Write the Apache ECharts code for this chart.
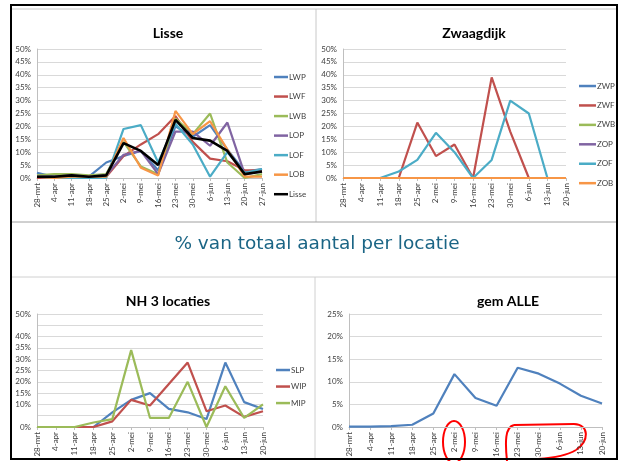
<html>

<head>
    <script src="https://cdn.jsdelivr.net/npm/echarts@6/dist/echarts.min.js"></script>

    <style>
        body {
            margin: 0;
            background: #fff;
        }
        #chart {
            width: 621px;
            height: 461px;
        }
    </style>
</head>

<body>
    <div id="chart"></div>

    <script>
        // week labels
        const weeksLisse = ['28-mrt', '4-apr', '11-apr', '18-apr', '25-apr', '2-mei', '9-mei', '16-mei', '23-mei', '30-mei', '6-jun', '13-jun', '20-jun', '27-jun'];
        const weeks = ['28-mrt', '4-apr', '11-apr', '18-apr', '25-apr', '2-mei', '9-mei', '16-mei', '23-mei', '30-mei', '6-jun', '13-jun', '20-jun'];

        // Lisse (%)
        const LWP = [2, 0.5, 0.5, 0.5, 6, 8.5, 10.5, 3, 20, 16, 20.5, 11, 2.5, 3.5];
        const LWF = [0, 0, 0.5, 0.3, 0.5, 8.5, 13, 17, 24, 14, 7.5, 6.5, 3, 3];
        const LWB = [1, 1.5, 1.5, 1, 1.5, 14, 4.5, 1.5, 23, 17, 25, 6, 0, 1.5];
        const LOP = [0.5, 0.5, 1, 0.5, 1, 9, 10.5, 1.5, 18, 18, 12.5, 21.5, 1.5, 2.5];
        const LOF = [0.5, 0, 0, 0, 0, 19, 20.5, 6, 21, 13, 0.5, 10, 2, 3.5];
        const LOB = [0.5, 0, 0.5, 0.5, 0.5, 15.5, 4, 1, 26, 17, 22, 11, 0.5, 0.5];
        const LISSE = [0.5, 0.5, 1, 0.5, 1, 13.5, 10.5, 5, 22.5, 15.5, 14.5, 10.5, 1.5, 2.5];

        // Zwaagdijk (%)
        const ZWP = [0, 0, 0, 0, 0, 0, 0, 0, 0, 0, 0, 0, 0];
        const ZWF = [0, 0, 0, 0, 21.5, 8.5, 13, 0, 39, 18, 0, 0, 0];
        const ZWB = [0, 0, 0, 0, 0, 0, 0, 0, 0, 0, 0, 0, 0];
        const ZOP = [0, 0, 0, 0, 0, 0, 0, 0, 0, 0, 0, 0, 0];
        const ZOF = [0, 0, 0, 2.5, 7, 17.5, 10, 0, 7, 30, 25, 0, 0];
        const ZOB = [0, 0, 0, 0, 0, 0, 0, 0, 0, 0, 0, 0, 0];

        // NH 3 locaties (%)
        const SLP = [0, 0, 0, 0, 6.5, 12, 15, 8, 6.5, 3.5, 28.5, 11, 8];
        const WIP = [0, 0, 0, 0, 2.5, 12, 9.5, 19, 28.5, 7, 9.5, 4.5, 7];
        const MIP = [0, 0, 0, 2, 3.5, 34, 4, 4, 20, 0, 18, 4, 10];

        // gem ALLE (%)
        const ALLE = [0.1, 0.1, 0.2, 0.5, 3, 11.7, 6.4, 4.7, 13.1, 11.8, 9.6, 6.9, 5.2];

        const blue = '#4F81BD', red = '#C0504D', green = '#9BBB59',
            purple = '#8064A2', aqua = '#4BACC6', orange = '#F79646';

        const font = 'Lato, "Liberation Sans", sans-serif';

        const chartDom = document.getElementById('chart');
        const myChart = echarts.init(chartDom);

        const line = (name, data, idx, color, width) => ({
            name: name,
            type: 'line',
            data: data,
            xAxisIndex: idx,
            yAxisIndex: idx,
            symbol: 'none',
            color: color,
            lineStyle: { color: color, width: width || 2.2 },
            animation: false
        });

        const xAxis = (cats, idx) => ({
            type: 'category',
            gridIndex: idx,
            data: cats,
            boundaryGap: false,
            axisLine: { lineStyle: { color: '#bfbfbf' } },
            axisTick: { show: true, length: 3, lineStyle: { color: '#bfbfbf' } },
            axisLabel: { rotate: 90, fontSize: 8, color: '#404040', fontFamily: font, interval: 0, margin: 5 }
        });

        const yAxis = (max, idx) => ({
            type: 'value',
            gridIndex: idx,
            min: 0,
            max: max,
            interval: 5,
            axisLine: { show: true, lineStyle: { color: '#bfbfbf' } },
            axisTick: { show: false },
            splitLine: { lineStyle: { color: '#d9d9d9' } },
            axisLabel: {
                formatter: '{value}%', fontSize: 8, lineHeight: 9, color: '#404040', fontFamily: font, margin: 6,
                showMaxLabel: true, showMinLabel: true
            }
        });

        const legend = (names, left, top, gap, w) => ({
            data: names,
            orient: 'vertical',
            left: left,
            top: top,
            padding: 0,
            icon: 'rect',
            itemWidth: w,
            itemHeight: 2.5,
            itemGap: gap,
            selectedMode: false,
            textStyle: { fontSize: 8, lineHeight: 10, color: '#404040', fontFamily: font, padding: [0, 0, 0, -4] }
        });

        const titleStyle = { fontSize: 14, fontWeight: 'bold', color: '#000', fontFamily: font };
        const red2 = { fill: 'none', stroke: '#ff0000', lineWidth: 2 };

        const option = {
            backgroundColor: '#fff',
            animation: false,
            title: [
                { text: 'Lisse', left: 163, top: 18, textAlign: 'center', textStyle: titleStyle },
                { text: 'Zwaagdijk', left: 469, top: 18, textAlign: 'center', textStyle: titleStyle },
                { text: 'NH 3 locaties', left: 163, top: 286, textAlign: 'center', textStyle: titleStyle },
                { text: 'gem ALLE', left: 503, top: 286, textAlign: 'center', textStyle: titleStyle }
            ],
            legend: [
                legend(['LWP', 'LWF', 'LWB', 'LOP', 'LOF', 'LOB', 'Lisse'], 274, 71, 7.5, 14),
                legend(['ZWP', 'ZWF', 'ZWB', 'ZOP', 'ZOF', 'ZOB'], 579, 80, 7.4, 17),
                legend(['SLP', 'WIP', 'MIP'], 276, 364, 4.5, 14)
            ],
            grid: [
                { left: 37, top: 49, width: 225, height: 129 },
                { left: 343, top: 49, width: 223, height: 129 },
                { left: 37, top: 314, width: 226, height: 113 },
                { left: 349, top: 314, width: 253, height: 113 }
            ],
            xAxis: [xAxis(weeksLisse, 0), xAxis(weeks, 1), xAxis(weeks, 2), xAxis(weeks, 3)],
            yAxis: [yAxis(50, 0), yAxis(50, 1), yAxis(50, 2), yAxis(25, 3)],
            series: [
                line('LWP', LWP, 0, blue),
                line('LWF', LWF, 0, red),
                line('LWB', LWB, 0, green),
                line('LOP', LOP, 0, purple),
                line('LOF', LOF, 0, aqua),
                line('LOB', LOB, 0, orange),
                line('Lisse', LISSE, 0, '#000', 2.6),
                line('ZWP', ZWP, 1, blue),
                line('ZWF', ZWF, 1, red),
                line('ZWB', ZWB, 1, green),
                line('ZOP', ZOP, 1, purple),
                line('ZOF', ZOF, 1, aqua),
                line('ZOB', ZOB, 1, orange),
                line('SLP', SLP, 2, blue),
                line('WIP', WIP, 2, red),
                line('MIP', MIP, 2, green),
                line('ALLE', ALLE, 3, blue)
            ],
            graphic: [
                // panel dividers
                { type: 'line', shape: { x1: 12, y1: 9, x2: 616, y2: 9 }, style: { stroke: '#c8c8c8', lineWidth: 1 } },
                { type: 'line', shape: { x1: 316, y1: 9, x2: 316, y2: 222 }, style: { stroke: '#c8c8c8', lineWidth: 1 } },
                { type: 'line', shape: { x1: 12, y1: 222, x2: 616, y2: 222 }, style: { stroke: '#a0a0a0', lineWidth: 1 } },
                { type: 'line', shape: { x1: 12, y1: 277, x2: 616, y2: 277 }, style: { stroke: '#d0d0d0', lineWidth: 1 } },
                { type: 'line', shape: { x1: 315, y1: 277, x2: 315, y2: 459 }, style: { stroke: '#d0d0d0', lineWidth: 1 } },
                // middle caption
                {
                    type: 'text', x: 317, y: 244,
                    style: { text: '% van totaal aantal per locatie', fill: '#1B6585', font: '18.5px "DejaVu Sans", sans-serif', align: 'center', verticalAlign: 'middle' }
                },
                // hand-drawn annotations
                { type: 'ellipse', shape: { cx: 454, cy: 442, rx: 11, ry: 21 }, style: red2 },
                { type: 'bezierCurve', shape: { x1: 507, y1: 461, cpx1: 505, cpy1: 442, cpx2: 505, cpy2: 427, x2: 514, y2: 425 }, style: red2 },
                { type: 'line', shape: { x1: 514, y1: 425, x2: 574, y2: 424 }, style: red2 },
                { type: 'bezierCurve', shape: { x1: 574, y1: 424, cpx1: 590, cpy1: 425, cpx2: 589, cpy2: 441, x2: 576, y2: 450 }, style: red2 },
                { type: 'bezierCurve', shape: { x1: 576, y1: 450, cpx1: 566, cpy1: 456, cpx2: 552, cpy2: 458, x2: 538, y2: 459 }, style: red2 },
                // outer frame
                { type: 'rect', shape: { x: 11, y: 5, width: 606, height: 454 }, style: { fill: 'none', stroke: '#000', lineWidth: 2 }, z: 100 }
            ]
        };

        myChart.setOption(option);
    </script>
</body>

</html>
